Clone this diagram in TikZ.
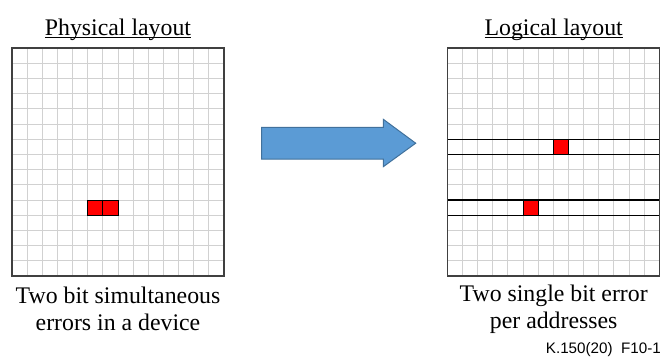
\documentclass[tikz,border=0pt]{standalone}
\usepackage{fontspec}
\setmainfont{Liberation Serif}
\setsansfont{Liberation Sans}
\usepackage{tikz}
\definecolor{arrowblue}{HTML}{5B9BD5}
\definecolor{arrowedge}{HTML}{41719C}
\newcommand{\cellw}{15.15}
\newcommand{\cellh}{15.2}
\newcommand{\ulined}[1]{\setbox0\hbox{#1}\rlap{\rule[-1.9pt]{\wd0}{0.9pt}}\box0}

\begin{document}
\begin{tikzpicture}[x=1pt,y=-1pt,
	gridline/.style={draw=black!18,line width=1pt},
	frame/.style={draw=black!75,line width=1.6pt},
	badbit/.style={fill=red,draw=black,line width=1pt},
	address/.style={draw=black,line width=1.4pt},
	caption/.style={font=\fontsize{23.8}{27}\selectfont,inner sep=0pt,align=center}]
	\useasboundingbox (0,0) rectangle (663,356);
	% physical array
	\begin{scope}[shift={(12,48)}]
		\foreach \i in {1,...,13}{
			\draw[gridline] (\i*\cellw,0) -- (\i*\cellw,15*\cellh);}
		\foreach \j in {1,...,14}{
			\draw[gridline] (0,\j*\cellh) -- (14*\cellw,\j*\cellh);}
		\foreach \i in {5,6}{
			\draw[badbit] (\i*\cellw,10*\cellh) rectangle ++(\cellw,\cellh);}
		\draw[frame] (0,0) rectangle (14*\cellw,15*\cellh);
	\end{scope}
	% logical array
	\begin{scope}[shift={(447.3,48)}]
		\foreach \i in {1,...,13}{
			\draw[gridline] (\i*\cellw,0) -- (\i*\cellw,15*\cellh);}
		\foreach \j in {1,...,14}{
			\draw[gridline] (0,\j*\cellh) -- (14*\cellw,\j*\cellh);}
		\foreach \i/\j in {7/6,5/10}{
			\draw[address] (0,\j*\cellh) rectangle (14*\cellw,\j*\cellh+\cellh);
			\draw[badbit] (\i*\cellw,\j*\cellh) rectangle ++(\cellw,\cellh);}
		\draw[frame] (0,0) rectangle (14*\cellw,15*\cellh);
	\end{scope}
	\draw[fill=arrowblue,draw=arrowedge,line width=1pt] (261.7,127.3) -- (383.3,127.3) -- (383.3,119.3) -- (415.7,143.2)
		-- (383.3,166.7) -- (383.3,159) -- (261.7,159) -- cycle;
	\node[caption,anchor=base] (phystitle) at (118,35.5) {\ulined{Physical layout}};
	\node[caption,anchor=base] (logtitle) at (553.7,35.5) {\ulined{Logical layout}};
	\node[caption,anchor=base] (physcap) at (118,330) {Two bit simultaneous\\errors in a device};
	\node[caption,anchor=base] (logcap) at (553.7,328.5) {Two single bit error\\per addresses};
	\node[font=\fontsize{15.2}{18}\selectfont\sffamily,inner sep=0pt,anchor=base east] (figno) at (661,353.5) {K.150(20)\ \ F10-1};
\end{tikzpicture}
\end{document}
